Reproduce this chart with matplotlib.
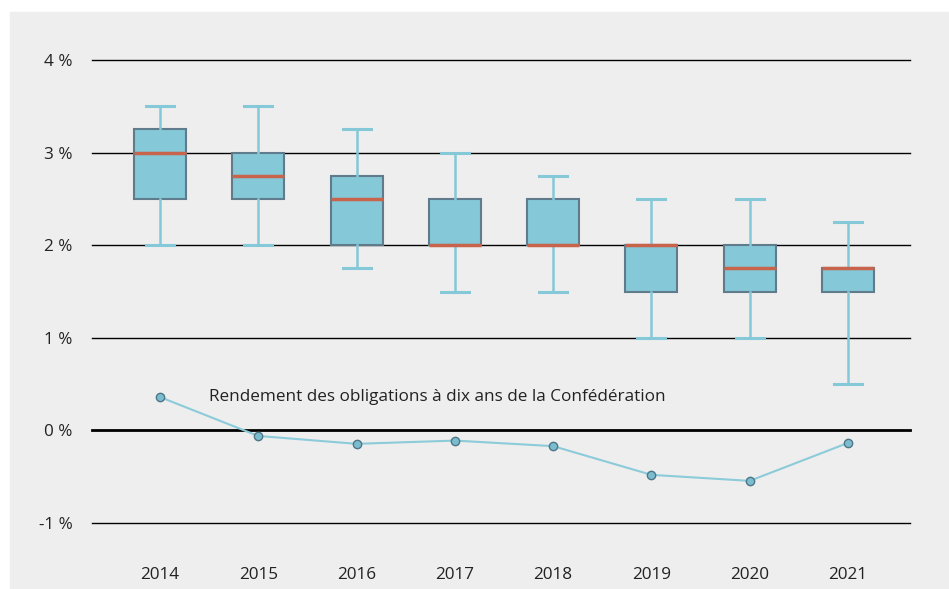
import matplotlib.pyplot as plt
from matplotlib.patches import Rectangle

years = ['2014', '2015', '2016', '2017', '2018', '2019', '2020', '2021']
whisker_low = [2.0, 2.0, 1.75, 1.5, 1.5, 1.0, 1.0, 0.5]
q1 = [2.5, 2.5, 2.0, 2.0, 2.0, 1.5, 1.5, 1.5]
median = [3.0, 2.75, 2.5, 2.0, 2.0, 2.0, 1.75, 1.75]
q3 = [3.25, 3.0, 2.75, 2.5, 2.5, 2.0, 2.0, 1.75]
whisker_high = [3.5, 3.5, 3.25, 3.0, 2.75, 2.5, 2.5, 2.25]
bond_yield = [0.36, -0.06, -0.145, -0.11, -0.17, -0.48, -0.545, -0.135]
line_label = 'Rendement des obligations à dix ans de la Confédération'

plt.rcParams['font.family'] = ['Open Sans', 'DejaVu Sans']

fig = plt.figure(figsize=(9.49, 5.89), dpi=100)
W, H = 949, 589
# grey panel behind everything
fig.patches.append(Rectangle((10 / W, 0), 1 - 10 / W, 1 - 12 / H,
                             transform=fig.transFigure, color='#eeeeee', zorder=-10))

ax = fig.add_axes([92 / W, 1 - 523 / H, (910 - 92) / W, (523 - 60) / H])
ax.set_zorder(5)
ax.set_facecolor('none')
for s in ax.spines.values():
    s.set_visible(False)

pos = list(range(len(years)))
ax.set_xlim(-68 / 98.29, 7 + 62 / 98.29)
ax.set_ylim(-1, 4)

for v in range(-1, 5):
    ax.axhline(v, color='black', lw=2 if v == 0 else 1, zorder=1, clip_on=False)

stats = []
for i in range(len(years)):
    stats.append({'whislo': whisker_low[i], 'q1': q1[i], 'med': median[i],
                  'q3': q3[i], 'whishi': whisker_high[i], 'fliers': []})

ax.bxp(stats, positions=pos, widths=0.53, capwidths=0.285, patch_artist=True,
       showfliers=False, manage_ticks=False,
       boxprops=dict(facecolor='#85c8d8', edgecolor='#5f7b8c', linewidth=1.5),
       medianprops=dict(color='#c9644c', linewidth=2.5),
       whiskerprops=dict(color='#85c8d8', linewidth=1.8),
       capprops=dict(color='#85c8d8', linewidth=2.2))

ax.plot(pos, bond_yield, color='#8ccbd9', lw=1.5, marker='o', markersize=6,
        markerfacecolor='#7bbccf', markeredgecolor='#4f7686', markeredgewidth=1,
        zorder=5)
ax.text(0.5, bond_yield[0], line_label, fontsize=12.3, color='#222222',
        va='center', ha='left')

ax.set_xticks(pos)
ax.set_xticklabels(years)
ax.set_yticks(range(-1, 5))
ax.set_yticklabels([f'{v} %' for v in range(-1, 5)])
ax.tick_params(axis='x', length=0, pad=32, labelsize=12.3, colors='#222222')
ax.tick_params(axis='y', length=0, pad=14, labelsize=12.3, colors='#222222')

fig.savefig('out.png', dpi=100)
